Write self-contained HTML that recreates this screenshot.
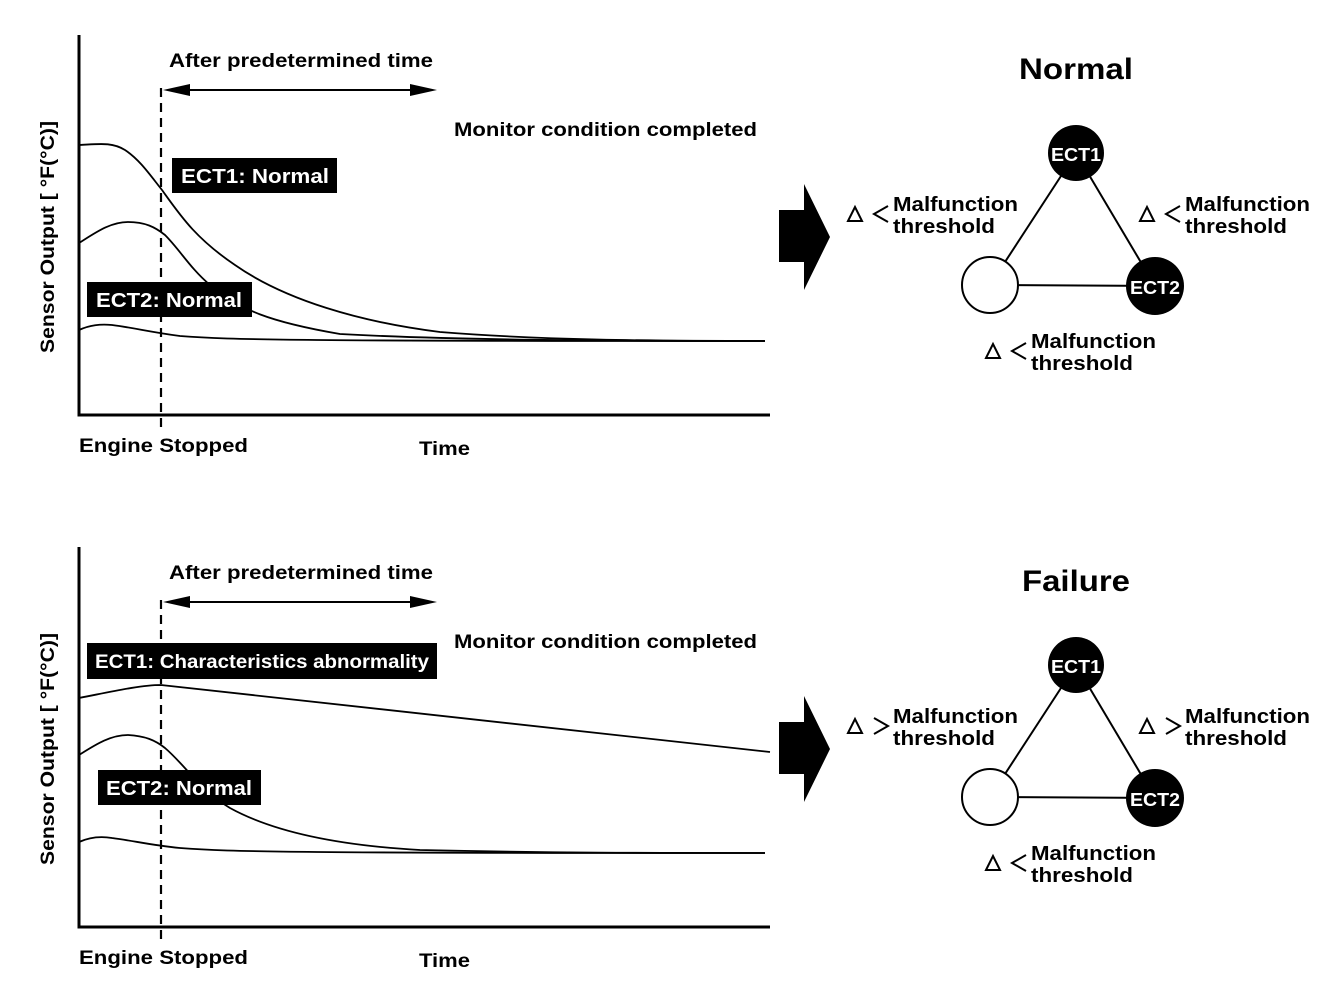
<!DOCTYPE html>
<html><head><meta charset="utf-8"><style>
html,body{margin:0;padding:0;background:#fff}
svg{display:block}
text{font-family:"Liberation Sans",Arial,sans-serif;font-weight:bold}
</style></head><body>
<svg width="1344" height="988" viewBox="0 0 1344 988" xmlns="http://www.w3.org/2000/svg">
<defs>
<g id="axes">
 <g stroke="#000" fill="none">
  <path d="M79 35 V415 H770" stroke-width="3"/>
  <line x1="161" y1="88" x2="161" y2="432" stroke-width="2.2" stroke-dasharray="9,6"/>
  <line x1="175" y1="90" x2="425" y2="90" stroke-width="2"/>
 </g>
 <path d="M163 90 L190 84 L190 96 Z M437 90 L410 84 L410 96 Z" fill="#000"/>
 <g font-size="19">
  <text x="169" y="67" textLength="264" lengthAdjust="spacingAndGlyphs">After predetermined time</text>
  <text x="454" y="136" textLength="303" lengthAdjust="spacingAndGlyphs">Monitor condition completed</text>
  <text x="79" y="452" textLength="169" lengthAdjust="spacingAndGlyphs">Engine Stopped</text>
  <text x="419" y="455" textLength="51" lengthAdjust="spacingAndGlyphs">Time</text>
  <text transform="translate(54,237) rotate(-90)" text-anchor="middle" font-size="19" textLength="232" lengthAdjust="spacingAndGlyphs">Sensor Output [ °F(°C)]</text>
 </g>
</g>
<g id="tri">
 <g stroke="#000" stroke-width="2" fill="none">
  <line x1="1076" y1="153" x2="990" y2="285"/>
  <line x1="1076" y1="153" x2="1155" y2="286"/>
  <line x1="990" y1="285" x2="1155" y2="286"/>
 </g>
 <circle cx="990" cy="285" r="28" fill="#fff" stroke="#000" stroke-width="2"/>
 <circle cx="1076" cy="153" r="28" fill="#000"/>
 <circle cx="1155" cy="286" r="29" fill="#000"/>
 <text x="1076" y="161" fill="#fff" font-size="18" text-anchor="middle" textLength="50" lengthAdjust="spacingAndGlyphs">ECT1</text>
 <text x="1155" y="294" fill="#fff" font-size="18" text-anchor="middle" textLength="50" lengthAdjust="spacingAndGlyphs">ECT2</text>
 <path d="M779 210 H804 V184 L830 237 L804 290 V262 H779 Z" fill="#000"/>
 <g fill="none" stroke="#000" stroke-width="2">
  <path d="M848 221 L855 207 L862 221 Z"/>
  <path d="M1140 221 L1147 207 L1154 221 Z"/>
  <path d="M986 358 L993 344 L1000 358 Z"/>
  <path d="M1026 343 L1012 351 L1026 359"/>
 </g>
 <g font-size="20">
  <text x="893" y="211" textLength="125" lengthAdjust="spacingAndGlyphs">Malfunction</text>
  <text x="893" y="233" textLength="102" lengthAdjust="spacingAndGlyphs">threshold</text>
  <text x="1185" y="211" textLength="125" lengthAdjust="spacingAndGlyphs">Malfunction</text>
  <text x="1185" y="233" textLength="102" lengthAdjust="spacingAndGlyphs">threshold</text>
  <text x="1031" y="348" textLength="125" lengthAdjust="spacingAndGlyphs">Malfunction</text>
  <text x="1031" y="370" textLength="102" lengthAdjust="spacingAndGlyphs">threshold</text>
 </g>
</g>
</defs>

<!-- TOP -->
<use href="#axes"/>
<g stroke="#000" stroke-width="1.8" fill="none">
 <path d="M79 145 C100 144 112 142 125 150 C140 160 150 175 162 190 C180 215 195 238 235 265 C285 300 360 322 440 332 C540 340 650 341 765 341"/>
 <path d="M79 243 C95 233 110 222 128 222 C145 222 155 227 165 235 C180 250 190 268 210 285 C240 310 270 322 340 334 C450 340 600 341 765 341"/>
 <path d="M79 330 C90 325 100 324 112 325 C135 328 150 332 180 336 C230 340 300 341 765 341"/>
</g>
<rect x="172" y="158" width="165" height="35" fill="#000"/>
<text x="181" y="183" fill="#fff" font-size="20" textLength="148" lengthAdjust="spacingAndGlyphs">ECT1: Normal</text>
<rect x="87" y="282" width="165" height="35" fill="#000"/>
<text x="96" y="307" fill="#fff" font-size="20" textLength="146" lengthAdjust="spacingAndGlyphs">ECT2: Normal</text>
<text x="1076" y="79" font-size="30" text-anchor="middle" textLength="114" lengthAdjust="spacingAndGlyphs">Normal</text>
<use href="#tri"/>
<g fill="none" stroke="#000" stroke-width="2">
 <path d="M888 206 L874 214 L888 222"/>
 <path d="M1180 206 L1166 214 L1180 222"/>
</g>

<!-- BOTTOM -->
<use href="#axes" transform="translate(0,512)"/>
<g stroke="#000" stroke-width="1.8" fill="none">
 <path d="M79 698 C110 692 140 685 161 685 L770 752"/>
 <path d="M79 755 C95 745 110 735 128 735 C145 736 155 740 165 748 C185 765 200 790 230 808 C270 830 330 845 420 850 C550 853 650 853 765 853"/>
 <path d="M79 842 C90 837 100 836 112 838 C135 841 150 845 180 848 C230 852 300 853 765 853"/>
</g>
<rect x="87" y="643" width="350" height="36" fill="#000"/>
<text x="95" y="668" fill="#fff" font-size="19" textLength="334" lengthAdjust="spacingAndGlyphs">ECT1: Characteristics abnormality</text>
<rect x="98" y="770" width="163" height="35" fill="#000"/>
<text x="106" y="795" fill="#fff" font-size="20" textLength="146" lengthAdjust="spacingAndGlyphs">ECT2: Normal</text>
<text x="1076" y="591" font-size="30" text-anchor="middle" textLength="108" lengthAdjust="spacingAndGlyphs">Failure</text>
<use href="#tri" transform="translate(0,512)"/>
<g fill="none" stroke="#000" stroke-width="2" transform="translate(0,512)">
 <path d="M874 206 L888 214 L874 222"/>
 <path d="M1166 206 L1180 214 L1166 222"/>
</g>
</svg>
</body></html>
